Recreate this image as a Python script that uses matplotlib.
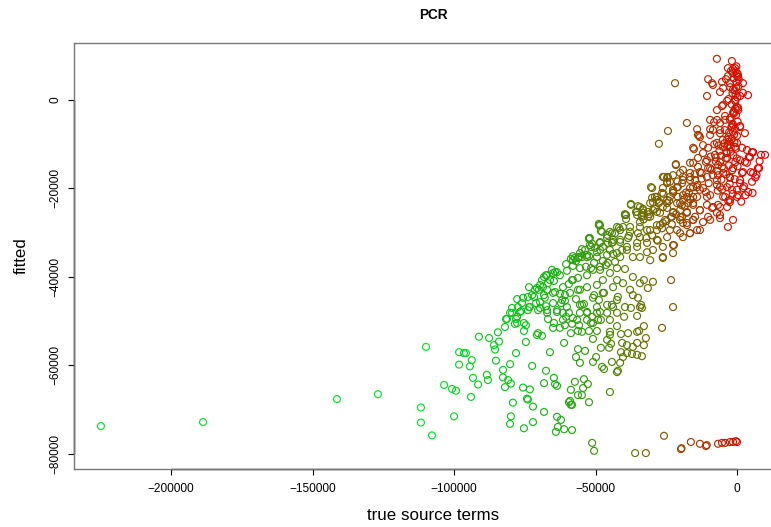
import numpy as np
import matplotlib
matplotlib.use("Agg")
import matplotlib.pyplot as plt

plt.rcParams['font.family'] = ['Liberation Sans', 'DejaVu Sans']

title = "PCR"
x_label = "true source terms"
y_label = "fitted"
x_ticks = [-200000, -150000, -100000, -50000, 0]
y_ticks = [-80000, -60000, -40000, -20000, 0]

# far-left observations
far_true = [-224800, -188700, -141400, -126900]
far_fit = [-73700, -72800, -67600, -66500]

# sparse lower-left scatter
low_true = [-109900, -91200, -87600, -84500, -85900, -84100, -85500, -98200, -96500, -95800,
            -93700, -98200, -94400, -85200, -78100, -80200, -82700, -88400, -93300, -88000,
            -91500, -82700, -80900, -79900, -82000, -103500, -100700, -99300, -94000, -111700,
            -111700, -107800, -100000, -79200, -79900, -80200, -75300, -72100, -72100, -74200,
            -73900, -75600, -73200]
low_fit = [-55800, -53500, -53800, -52500, -55400, -54600, -56400, -57000, -57200, -57200,
           -58800, -59800, -60200, -58900, -57200, -59700, -61000, -62100, -62800, -63300,
           -64300, -62700, -63300, -64100, -64900, -64400, -65300, -65700, -67100, -69500,
           -72900, -75800, -71500, -68400, -71500, -73200, -74200, -72800, -69300, -67500,
           -67700, -65000, -65400]

# lower part of the main band
band_low_true = [
    -72400, -67500, -68200, -64700, -64300, -63600, -66100, -61100, -74600, -75300,
    -75300, -74600, -70300, -68900, -70700, -81600, -80200, -78100, -78500, -76700,
    -73900, -70300, -67500, -66800, -65000, -62600, -60800, -58700, -56200, -60400,
    -61500, -59400, -58000, -58300, -55800, -54800, -52300, -50900, -56200, -53700,
    -56900, -55500, -57300, -54100, -52700, -54400, -56200, -54800, -58700, -59000,
    -58700, -52300, -50900, -49800, -47700, -47000, -44900, -42100, -42400, -41300,
    -40300, -38900, -37100, -35300, -33600, -44200, -48100, -45200, -44500, -45900,
    -44900, -44900, -42400, -41000, -38500, -35300, -34600, -32900, -32200, -32900,
    -35300, -38900, -40600, -41000, -36800, -50900, -49100, -51600, -49500, -48400,
    -45900, -43800, -42400, -39600, -37500, -33900, -33600, -35300, -39900, -26500,
    -22600, -53000, -55500, -54100, -62200, -60800]
band_low_fit = [
    -60100, -61200, -64000, -62800, -64200, -64600, -57000, -54900, -54700, -52200,
    -50400, -50900, -52700, -53300, -53100, -49500, -48100, -49500, -50600, -47900,
    -47500, -47500, -46600, -49500, -51500, -51500, -50900, -52700, -52200, -49000,
    -48100, -48100, -49300, -50600, -50900, -52400, -52200, -54000, -56300, -56700,
    -58100, -59400, -63700, -63100, -64200, -65100, -66700, -66700, -65500, -68000,
    -68900, -68300, -59200, -58100, -60300, -60800, -66000, -61200, -61500, -59400,
    -58100, -57200, -57400, -57600, -57900, -59200, -56000, -56000, -55100, -54200,
    -53100, -52400, -51100, -52900, -52700, -52400, -52200, -51100, -53800, -55400,
    -54900, -55400, -54900, -57000, -55800, -50400, -49700, -50400, -52200, -47900,
    -48100, -46800, -48100, -46800, -47000, -46300, -47000, -48800, -49000, -51500,
    -46800, -48100, -48100, -46100, -45900, -45400]

# observations near the bottom of the range
bottom_true = [-68200, -63600, -62200, -63300, -64000, -61100, -58300, -51200, -50500, -59400,
               -58300, -36000, -32200, -25800, -19800, -19600, -16300, -13100, -11000, -10700,
               -6700, -5300, -4200, -2500, -1400, 0, -400]
bottom_fit = [-70500, -71600, -72300, -73900, -75000, -74400, -74600, -77500, -79300, -68300,
              -68900, -79800, -79800, -75900, -78900, -78700, -77300, -77700, -78200, -78000,
              -77700, -77500, -77500, -77300, -77300, -77300, -77100]

# middle of the main band
band_mid_true = [
    -73500, -77700, -79500, -77700, -77400, -76300, -73500, -71000, -71700, -70000,
    -68200, -67500, -66800, -64700, -64300, -62600, -60400, -58000, -55500, -54800,
    -52300, -48800, -48100, -51600, -52300, -50500, -54800, -56900, -53400, -51600,
    -48400, -47400, -46300, -44900, -43800, -44200, -41700, -39200, -37500, -35000,
    -35300, -33600, -31500, -30400, -29000, -27600, -26200, -24700, -22600, -20900,
    -19100, -17700, -15500, -14100, -16600, -19100, -23300, -26200, -28300, -31800,
    -34300, -35300, -38200, -38900, -40600, -41300, -36800, -31800, -29700, -30700,
    -26200, -22300, -23300, -32900, -31500, -29700, -34300, -36800, -37800, -40300,
    -42400, -42400, -39600, -36800, -35000, -34300, -42100, -44200, -47000, -48800,
    -50500, -53000, -55500, -58000, -59400, -60800, -62600, -64300, -56900, -53000,
    -54800, -49500, -45900, -51200, -48100, -44900, -60100, -63600, -67100, -61500,
    -64700, -68200, -65400, -60100, -58700, -58000, -55500, -48400, -43800, -41300,
    -48400, -45900, -69600, -67100, -71400, -73900, -76000, -68900,
    -52000, -52000, -42400, -45600, -47400, -49500, -43800, -58000, -56200, -53000,
    -63600, -65000, -67100, -66100, -69600, -68600, -70700, -72400, -75600, -73200,
    -69600, -67900, -65000, -61500, -58300, -56200, -53000, -50900, -48400, -45600,
    -43100, -44900, -47400, -49500, -56200, -59000, -61800, -65000, -67100, -63600,
    -55500, -50900, -47400, -43800, -42400, -49500, -53000, -56500, -81300, -79500,
    -77700, -82000]
band_mid_fit = [
    -42300, -45000, -47000, -49000, -46800, -47700, -46800, -45900, -44500, -42900,
    -44100, -39600, -41400, -40900, -38900, -39600, -37100, -37500, -38000, -35500,
    -31400, -28300, -29600, -33200, -35300, -36800, -33700, -36400, -37700, -38000,
    -38400, -36400, -37300, -33900, -34800, -30100, -28900, -26000, -23700, -24000,
    -25300, -26000, -25300, -19700, -21900, -23300, -24200, -18500, -21000, -19700,
    -22600, -25500, -27100, -29400, -30100, -27800, -26400, -27800, -29400, -29400,
    -31000, -32300, -30700, -33200, -33900, -35500, -35500, -34400, -33900, -36200,
    -35700, -32800, -40700, -40700, -42500, -41100, -41400, -40000, -42900, -41400,
    -40700, -38000, -38200, -44100, -44700, -46800, -44500, -46300, -43600, -45200,
    -44100, -42300, -42900, -40700, -41600, -44100, -43800, -43400, -45000, -47900,
    -46300, -46800, -46300, -49000, -49700, -49700, -46800, -47500, -48100, -49700,
    -50400, -40000, -38400, -38600, -35900, -35300, -34600, -33900, -32100, -31600,
    -32300, -31200, -45700, -42900, -42900, -44500, -45900, -40700,
    -31200, -32800, -28700, -32300, -33200, -34400, -31600, -36200, -35700, -35000,
    -38900, -39100, -39600, -40700, -41800, -42300, -42500, -44100, -44700, -46800,
    -47000, -44700, -43600, -42300, -40700, -40200, -39600, -38400, -37700, -36800,
    -36600, -39100, -40700, -41800, -42900, -43600, -45200, -45900, -47500, -47900,
    -46300, -44700, -43600, -42300, -45200, -48100, -49700, -49700, -49500, -48100,
    -50400, -51300]

# upper band, where the fit approaches zero
band_high_true = [
    -7100, -1800, -21900, -10200, -8800, -8500, -5300, 2100, 3900, -10600,
    -6000, -3200, -2100, -1400, 0, 400, -3900, -2500, -1400, -700,
    0, -1400, -2500, -1800, -3500, -4900, -7100, -4900, -7100, -9500,
    -8500, -6000, -4200, 1100, 2800, -700, 1800, 5300, 8500, 4200,
    7800, 2800, 4900, 1800, -1400, -2500, 1100, -1800, -4200, -6000,
    -7100, -4900, -6700, -10200, -13800, -15500, -12000, -15200, -10200, -13100,
    -13800, -14100, -17700, -24400, -27600, -21600, -26200, -24700, -30000, -19100,
    -16600, -15500, -13100, -10600, -8500, -7100, -6000, -3500, -2500, -9500,
    -12000, -13100, -15500, -17700, -20900, -22600, -26500, -28300, -30700, -34300,
    -37500, -35300, -33200, -30700, -27200, -24700, -22600, -20100, -17700, -15500,
    -13100, -16600, -20100, -23700, -27200, -30700, -34300, -37800, -40300, -39600,
    -43100, -44900, -48400, -47700, -52300, -1400, -6000, -3200, 0, -8100,
    -3500, -4900, -700, 0, -3200, 1100, 2100, 400, 1100, -9500,
    -5300, -4200, -6000,
    -13400, -9500, -6000, -1400, -15500, -12000, -7100, -3500, 0, 3500,
    5700, 4600, -21600, -16600, -13800, -10600, -7800, -3500, 1100, 3500,
    7400, 5700, 2100, -5300, -9500, -13100, -16600, -20100, -22600, -23700,
    -19100, -14800, -10600, -6700, -2500, 1100, 5300, 2100, 0, -3500,
    -7100, -12000, -16600, -21200, -26200, -28300, -23700, -19100, -14100, -9500,
    -4900, 400, -2500, -6700, -10600, -15500, -20100, -24700, -29700, -33200,
    -28300, -22600, -17700, -13100, -8800, -6000, -10200, -14800, -19400, -33600,
    -25800, -24400, -24700, -33200, -35700, -39600, -39200, -48800, -51200, -53700,
    -55800, -57300, -30000, -29700, -31500, -34300, -37800, -41300, -45900, -48400,
    -50200, -44200, -41300, -38500, -35000, -28300, -25400, -23000, -20100, -17300,
    -15500, -14100, -16600, -19100, -19400, -24700, -21200, -17700, -21200, -24700,
    -28300, -31800, -35300, -38900, -42400, -45900, -49500, -53000, -34300, -26200,
    -22600, -19100, -22600, -26200]
band_high_fit = [
    9300, 8800, 3800, 4700, 3800, 3400, 4100, 3800, 1100, 900,
    1800, 7200, 6600, 7000, 6100, 5200, 4700, 3800, 2300, 0,
    -1600, -2900, -4500, -6100, -9000, -10600, -2300, -1100, -4500, -4500,
    -6800, -6800, -4500, -6100, -7500, -10600, -10800, -11800, -12400, -12900,
    -15400, -14000, -16300, -16500, -15400, -17400, -18800, -20300, -21900, -19700,
    -18100, -16500, -14700, -15400, -15100, -14200, -12000, -11100, -10800, -8400,
    -7900, -6600, -5200, -7000, -9900, -14700, -17400, -17600, -19900, -17400,
    -18100, -19700, -20300, -21900, -24200, -25500, -24200, -24200, -22600, -27100,
    -27600, -24900, -23300, -21900, -21900, -20300, -21000, -22600, -23300, -24200,
    -23500, -26000, -25500, -26400, -25500, -24400, -25500, -27100, -28300, -27100,
    -29400, -30100, -30100, -29400, -28300, -29400, -28700, -29800, -28700, -26000,
    -30100, -29800, -28300, -29800, -31200, -27100, -26700, -28700, -21900, -5000,
    -200, 2700, 7200, 5400, 5400, 900, 1600, -2300, -5900, -6600,
    -1400, -3600, -5200,
    -8100, -7900, -7500, -7200, -10800, -10200, -9700, -10600, -9700, -11300,
    -11800, -12900, -14500, -14200, -13100, -13600, -12400, -13100, -13600, -14200,
    -15400, -16500, -16300, -15100, -15400, -16300, -16500, -16500, -17000, -18500,
    -18100, -18100, -17400, -17000, -17600, -18100, -18500, -19900, -20300, -19700,
    -19200, -19900, -19900, -19700, -19900, -21900, -21900, -21500, -21900, -21500,
    -21900, -21500, -23100, -23700, -23700, -23700, -23300, -23300, -23100, -24900,
    -25300, -25300, -25300, -24900, -24400, -26000, -26400, -26400, -26400, -26400,
    -17400, -17400, -18800, -24600, -25300, -25800, -26900, -28000, -32500, -33900,
    -35500, -35700, -22100, -24900, -26400, -27600, -28700, -29400, -30500, -32100,
    -33400, -32300, -32100, -31200, -30100, -28300, -27100, -26400, -24900, -23300,
    -21900, -19700, -17400, -15800, -18800, -22600, -23300, -27800, -29400, -31000,
    -31600, -32300, -33200, -33900, -34600, -35000, -35500, -35500, -35500, -33200,
    -32800, -31000, -34600, -35500]

# dense column of observations close to zero
column_true = [-500, 300, -1200, -200, 500, -800, -1600, 100, -600, -1900,
               400, -1100, -300, -2300, 200, -1400, -700, -2800, 0, -1800,
               -900, -3300, -400, -2200, -1300, -4000, -600, -2900, -1700, -3800,
               -800, -2600, -5200, -1500, -3100, -6800, -5500, -4600, -3600, -2700,
               -2000, -1000, -500, -2400, -3000, -1500, -200, -4300, -5000, -6200,
               -7500, -8000, -9300, -11000, -12500, -10000, -8500, -7000, -6000,
               9900, 6900, 3000, 1500, 5500, 2500, 4000, 6500, 8000]
column_fit = [6500, 5800, 4900, 4000, 3100, 2200, 1500, 600, -300, -1000,
              -1800, -2600, -3400, -4000, -4900, -5600, -6500, -7300, -8100, -8800,
              -9600, -10200, -11000, -11700, -12500, -13200, -14100, -14800, -15900, -16800,
              -17900, -19000, -20200, -21200, -22800, -20500, -18000, -15500, -12000, -9400,
              -6200, -3000, 1200, 2900, 200, 6100, 7600, -6800, -9000, -11500,
              -13000, -10000, -12800, -14000, -16500, -18800, -17000, -16000, -14000,
              -12400, -16900, -21500, -23000, -21000, -19500, -20800, -17500, -13800]

# crowded stretch between the band and the column
crowd_true = [-33000, -31000, -29000, -27500, -26000, -24000, -22500, -21000, -19500, -18000,
              -16500, -15000, -32000, -30000, -28000, -26500, -25000, -23000, -21500, -20000,
              -18500, -17000, -14000, -12500, -11000, -9000, -7500, -6500, -5500, -4500,
              -3800, -3000, -2200, -1600, -1000, -600, -300, -100, 200, 600]
crowd_fit = [-27000, -25800, -24600, -23000, -21200, -22800, -20600, -18400, -23800, -20900,
             -22500, -16800, -31200, -30600, -31800, -29000, -27400, -28100, -25800, -26500,
             -24000, -21000, -19200, -17800, -20800, -15800, -13900, -10300, -12600, -9800,
             -11900, -8400, -10700, -5400, -7800, -1900, 2800, -13200, -15000, 4600]

true_source = np.array(far_true + low_true + band_low_true + bottom_true + band_mid_true
                       + band_high_true + column_true + crowd_true, dtype=float)
fitted = np.array(far_fit + low_fit + band_low_fit + bottom_fit + band_mid_fit
                  + band_high_fit + column_fit + crowd_fit, dtype=float)

# green-to-red ramp keyed on the true source term
ramp_at = [-110000, -75000, -60000, -45000, -33000, -22000, -12000, -4000, 0, 8000]
ramp_r = [0.00, 0.05, 0.15, 0.30, 0.42, 0.55, 0.68, 0.78, 0.85, 0.92]
ramp_g = [0.90, 0.76, 0.66, 0.54, 0.44, 0.32, 0.20, 0.12, 0.06, 0.00]
ramp_b = [0.15, 0.10, 0.08, 0.04, 0.00, 0.00, 0.00, 0.00, 0.00, 0.00]
colors = np.column_stack([np.interp(true_source, ramp_at, ramp_r),
                          np.interp(true_source, ramp_at, ramp_g),
                          np.interp(true_source, ramp_at, ramp_b)])

W, H, DPI = 771, 527, 100
fig = plt.figure(figsize=(W / DPI, H / DPI), dpi=DPI)
left_px, right_px, top_px, bottom_px = 74.3, 791.6, 42.9, 469.0
ax = fig.add_axes([left_px / W, 1 - bottom_px / H,
                   (right_px - left_px) / W, (bottom_px - top_px) / H])

ax.scatter(true_source, fitted, s=25, facecolors="none", edgecolors=colors,
           linewidths=0.85)

xmin, xmax = -234200, 19300
ymin, ymax = -83400, 12900
ax.set_xlim(xmin, xmax)
ax.set_ylim(ymin, ymax)

ax.set_xticks(x_ticks)
ax.set_yticks(y_ticks)
ax.tick_params(axis="both", direction="out", length=4.3, width=0.8,
               labelsize=8.6, color="black")
ax.tick_params(axis="x", pad=5.5)
ax.tick_params(axis="y", pad=5)
for lab in ax.get_yticklabels():
    lab.set_rotation(90)
    lab.set_va("center")

for side in ["top", "left", "bottom"]:
    ax.spines[side].set_color("#777777")
    ax.spines[side].set_linewidth(1.0)
ax.spines["right"].set_visible(False)

# axis lines spanning the tick range
ax.plot([x_ticks[0], x_ticks[-1]], [ymin, ymin], color="black", lw=1.0,
        clip_on=False, solid_capstyle="butt")
ax.plot([xmin, xmin], [y_ticks[0], y_ticks[-1]], color="black", lw=1.0,
        clip_on=False, solid_capstyle="butt")

ax.set_xlabel(x_label, fontsize=12.2)
ax.xaxis.label.set_va("center")
ax.xaxis.set_label_coords(0.5, (bottom_px - 516) / (bottom_px - top_px))
ax.set_ylabel(y_label, fontsize=12.2)
ax.yaxis.label.set_va("center")
ax.yaxis.set_label_coords((21 - left_px) / (right_px - left_px), 0.5)

ax.text(0.5, (bottom_px - 15) / (bottom_px - top_px), title, transform=ax.transAxes,
        ha="center", va="center", fontsize=9.8, fontweight="bold")

fig.savefig("out.png", dpi=DPI)
